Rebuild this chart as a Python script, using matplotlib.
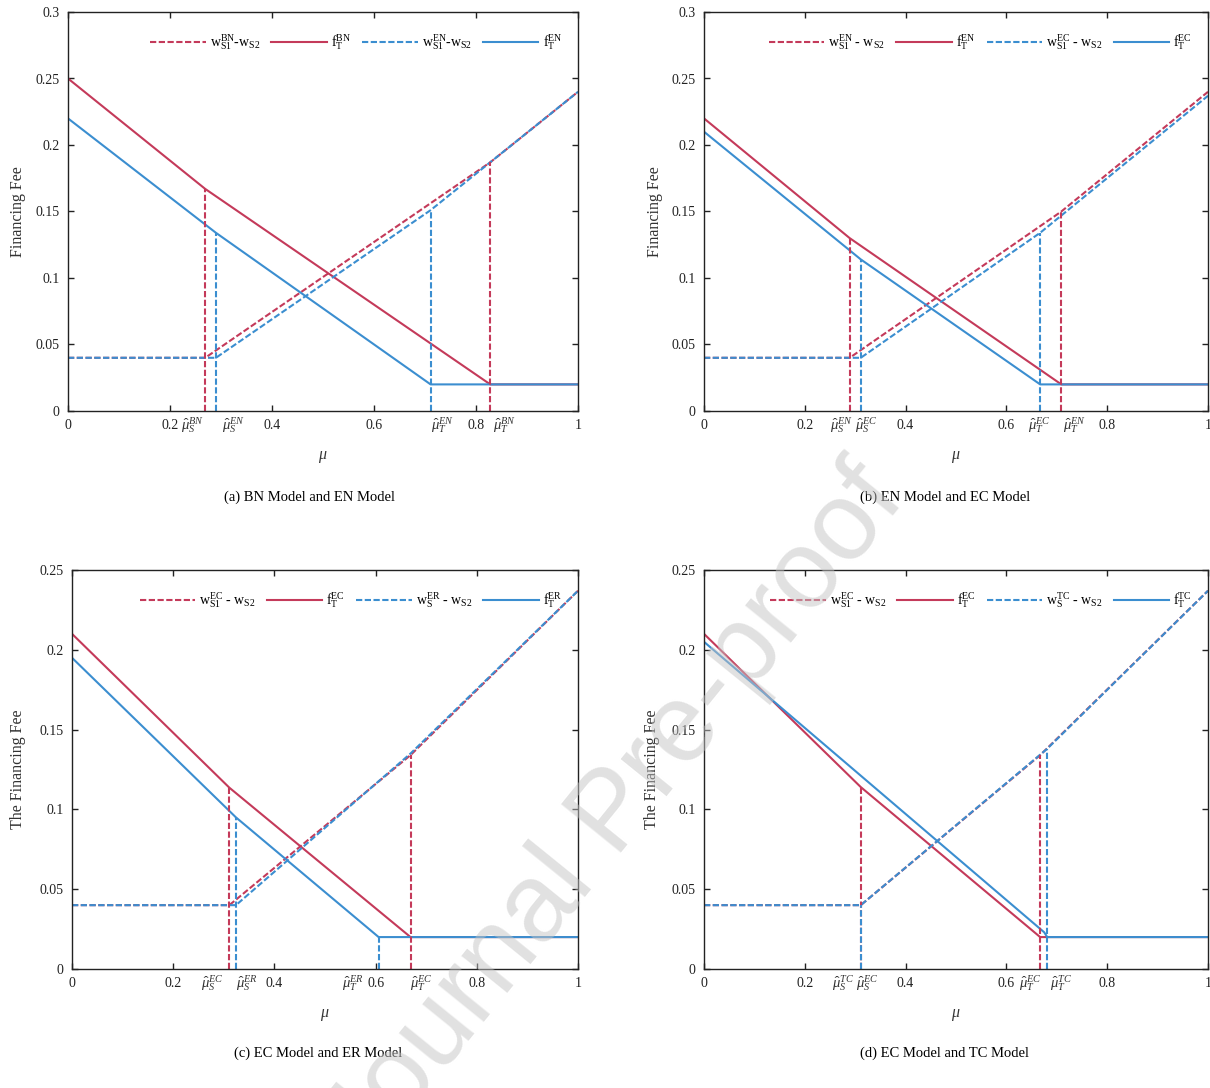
import matplotlib
matplotlib.use("Agg")
import matplotlib.pyplot as plt

plt.rcParams['font.family'] = ['Liberation Serif', 'DejaVu Serif']
plt.rcParams['mathtext.fontset'] = 'custom'
plt.rcParams['mathtext.rm'] = 'Liberation Serif'
plt.rcParams['mathtext.it'] = 'Liberation Serif:italic'
plt.rcParams['mathtext.bf'] = 'Liberation Serif:bold'

RED = '#C43A5A'
BLUE = '#3B8ED0'

# ---------------- data: panel (a) BN vs EN ----------------
A_WR_X = [0, 0.269, 0.828, 1.0]
A_WR_Y = [0.04, 0.04, 0.187, 0.24]
A_FR_X = [0, 0.269, 0.828, 1.0]
A_FR_Y = [0.25, 0.167, 0.02, 0.02]
A_WB_X = [0, 0.290, 0.711, 1.0]
A_WB_Y = [0.04, 0.04, 0.151, 0.24]
A_FB_X = [0, 0.290, 0.711, 1.0]
A_FB_Y = [0.22, 0.134, 0.02, 0.02]
A_VR_X = [0.269, 0.828]
A_VR_Y = [0.167, 0.187]
A_VB_X = [0.290, 0.711]
A_VB_Y = [0.134, 0.151]
A_LAB_X = [0.245, 0.325, 0.735, 0.855]
A_LAB = [r'$\hat{\mu}_S^{BN}$', r'$\hat{\mu}_S^{EN}$', r'$\hat{\mu}_T^{EN}$', r'$\hat{\mu}_T^{BN}$']
A_LEG = [r'$\mathrm{w}_{\mathrm{S1}}^{\mathrm{BN}}$-$\mathrm{w}_{\mathrm{S2}}$', r'$\mathrm{f}_{\mathrm{T}}^{\mathrm{BN}}$',
         r'$\mathrm{w}_{\mathrm{S1}}^{\mathrm{EN}}$-$\mathrm{w}_{\mathrm{S2}}$', r'$\mathrm{f}_{\mathrm{T}}^{\mathrm{EN}}$']

# ---------------- data: panel (b) EN vs EC ----------------
B_WR_X = [0, 0.289, 0.709, 1.0]
B_WR_Y = [0.04, 0.04, 0.150, 0.240]
B_FR_X = [0, 0.289, 0.709, 1.0]
B_FR_Y = [0.22, 0.130, 0.02, 0.02]
B_WB_X = [0, 0.311, 0.667, 1.0]
B_WB_Y = [0.04, 0.04, 0.134, 0.237]
B_FB_X = [0, 0.311, 0.667, 1.0]
B_FB_Y = [0.21, 0.114, 0.02, 0.02]
B_VR_X = [0.289, 0.709]
B_VR_Y = [0.130, 0.150]
B_VB_X = [0.311, 0.667]
B_VB_Y = [0.114, 0.134]
B_LAB_X = [0.272, 0.322, 0.666, 0.735]
B_LAB = [r'$\hat{\mu}_S^{EN}$', r'$\hat{\mu}_S^{EC}$', r'$\hat{\mu}_T^{EC}$', r'$\hat{\mu}_T^{EN}$']
B_LEG = [r'$\mathrm{w}_{\mathrm{S1}}^{\mathrm{EN}}$ - $\mathrm{w}_{\mathrm{S2}}$', r'$\mathrm{f}_{\mathrm{T}}^{\mathrm{EN}}$',
         r'$\mathrm{w}_{\mathrm{S1}}^{\mathrm{EC}}$ - $\mathrm{w}_{\mathrm{S2}}$', r'$\mathrm{f}_{\mathrm{T}}^{\mathrm{EC}}$']

# ---------------- data: panel (c) EC vs ER ----------------
C_WR_X = [0, 0.311, 0.669, 1.0]
C_WR_Y = [0.04, 0.04, 0.134, 0.237]
C_FR_X = [0, 0.311, 0.669, 1.0]
C_FR_Y = [0.21, 0.1136, 0.02, 0.02]
C_WB_X = [0, 0.324, 0.669, 1.0]
C_WB_Y = [0.04, 0.04, 0.135, 0.237]
C_FB_X = [0, 0.324, 0.606, 1.0]
C_FB_Y = [0.195, 0.095, 0.02, 0.02]
C_VR_X = [0.311, 0.669]
C_VR_Y = [0.1136, 0.134]
C_VB_X = [0.324, 0.606]
C_VB_Y = [0.095, 0.02]
C_LAB_X = [0.278, 0.345, 0.555, 0.690]
C_LAB = [r'$\hat{\mu}_S^{EC}$', r'$\hat{\mu}_S^{ER}$', r'$\hat{\mu}_T^{ER}$', r'$\hat{\mu}_T^{EC}$']
C_LEG = [r'$\mathrm{w}_{\mathrm{S1}}^{\mathrm{EC}}$ - $\mathrm{w}_{\mathrm{S2}}$', r'$\mathrm{f}_{\mathrm{T}}^{\mathrm{EC}}$',
         r'$\mathrm{w}_{\mathrm{S}}^{\mathrm{ER}}$ - $\mathrm{w}_{\mathrm{S2}}$', r'$\mathrm{f}_{\mathrm{T}}^{\mathrm{ER}}$']

# ---------------- data: panel (d) EC vs TC ----------------
D_WR_X = [0, 0.311, 0.667, 1.0]
D_WR_Y = [0.04, 0.04, 0.134, 0.237]
D_FR_X = [0, 0.311, 0.667, 1.0]
D_FR_Y = [0.21, 0.114, 0.02, 0.02]
D_WB_X = [0, 0.311, 0.681, 1.0]
D_WB_Y = [0.04, 0.04, 0.138, 0.237]
D_FB_X = [0, 0.675, 0.681, 1.0]
D_FB_Y = [0.205, 0.023, 0.02, 0.02]
D_VR_X = [0.311, 0.667]
D_VR_Y = [0.114, 0.134]
D_VB_X = [0.311, 0.681]
D_VB_Y = [0.04, 0.138]
D_LAB_X = [0.276, 0.325, 0.648, 0.708]
D_LAB = [r'$\hat{\mu}_S^{TC}$', r'$\hat{\mu}_S^{EC}$', r'$\hat{\mu}_T^{EC}$', r'$\hat{\mu}_T^{TC}$']
D_LEG = [r'$\mathrm{w}_{\mathrm{S1}}^{\mathrm{EC}}$ - $\mathrm{w}_{\mathrm{S2}}$', r'$\mathrm{f}_{\mathrm{T}}^{\mathrm{EC}}$',
         r'$\mathrm{w}_{\mathrm{S}}^{\mathrm{TC}}$ - $\mathrm{w}_{\mathrm{S2}}$', r'$\mathrm{f}_{\mathrm{T}}^{\mathrm{TC}}$']

X_TICKS = [0, 0.2, 0.4, 0.6, 0.8, 1]
X_TICKLABELS = ['0', '0.2', '0.4', '0.6', '0.8', '1']
Y_TICKS_TOP = [0, 0.05, 0.1, 0.15, 0.2, 0.25, 0.3]
Y_TICKLABELS_TOP = ['0', '0.05', '0.1', '0.15', '0.2', '0.25', '0.3']
Y_TICKS_BOT = [0, 0.05, 0.1, 0.15, 0.2, 0.25]
Y_TICKLABELS_BOT = ['0', '0.05', '0.1', '0.15', '0.2', '0.25']

CAPTIONS = ['(a) BN Model and EN Model', '(b) EN Model and EC Model',
            '(c) EC Model and ER Model', '(d) EC Model and TC Model']
YLABELS = ['Financing Fee', 'Financing Fee', 'The Financing Fee', 'The Financing Fee']
WATERMARK = 'Journal Pre-proof'

W, H = 1210, 1088
fig = plt.figure(figsize=(W / 100, H / 100), dpi=100)

def px_axes(l, t, r, b):
    return fig.add_axes([l / W, 1 - b / H, (r - l) / W, (b - t) / H])

axes_px = [(68, 12, 578, 411), (704, 12, 1208, 411), (72, 570, 578, 969), (704, 570, 1208, 969)]

panels = [
    (A_WR_X, A_WR_Y, A_FR_X, A_FR_Y, A_WB_X, A_WB_Y, A_FB_X, A_FB_Y, A_VR_X, A_VR_Y, A_VB_X, A_VB_Y, A_LAB_X, A_LAB, A_LEG),
    (B_WR_X, B_WR_Y, B_FR_X, B_FR_Y, B_WB_X, B_WB_Y, B_FB_X, B_FB_Y, B_VR_X, B_VR_Y, B_VB_X, B_VB_Y, B_LAB_X, B_LAB, B_LEG),
    (C_WR_X, C_WR_Y, C_FR_X, C_FR_Y, C_WB_X, C_WB_Y, C_FB_X, C_FB_Y, C_VR_X, C_VR_Y, C_VB_X, C_VB_Y, C_LAB_X, C_LAB, C_LEG),
    (D_WR_X, D_WR_Y, D_FR_X, D_FR_Y, D_WB_X, D_WB_Y, D_FB_X, D_FB_Y, D_VR_X, D_VR_Y, D_VB_X, D_VB_Y, D_LAB_X, D_LAB, D_LEG),
]

DASH = (0, (3.0, 1.2))
LW = 1.5
caption_px = [(310, 497), (945, 497), (318, 1053), (945, 1053)]
ylabel_px = [18, 655, 18, 652]

for i, (p, box) in enumerate(zip(panels, axes_px)):
    (wrx, wry, frx, fry, wbx, wby, fbx, fby, vrx, vry, vbx, vby, labx, labs, legs) = p
    ax = px_axes(*box)
    l1, = ax.plot(wrx, wry, color=RED, lw=LW, ls=DASH)
    l2, = ax.plot(frx, fry, color=RED, lw=LW)
    l3, = ax.plot(wbx, wby, color=BLUE, lw=LW, ls=DASH)
    l4, = ax.plot(fbx, fby, color=BLUE, lw=LW)
    ax.vlines(vrx, 0, vry, colors=RED, lw=LW, linestyles=[DASH])
    ax.vlines(vbx, 0, vby, colors=BLUE, lw=LW, linestyles=[DASH])

    ax.set_xlim(0, 1)
    if i < 2:
        ax.set_ylim(0, 0.3)
        ax.set_yticks(Y_TICKS_TOP)
        ax.set_yticklabels(Y_TICKLABELS_TOP)
    else:
        ax.set_ylim(0, 0.25)
        ax.set_yticks(Y_TICKS_BOT)
        ax.set_yticklabels(Y_TICKLABELS_BOT)
    ax.set_xticks(X_TICKS)
    ax.set_xticklabels(X_TICKLABELS)
    ax.tick_params(direction='in', top=True, right=True, length=4, width=1,
                   labelsize=10, colors='#222222', pad=6)
    for s in ax.spines.values():
        s.set_color('#222222')
        s.set_linewidth(1.0)

    for x, t in zip(labx, labs):
        ax.annotate(t, xy=(x, 0), xycoords=('data', 'axes fraction'),
                    xytext=(0, -3), textcoords='offset points',
                    ha='center', va='top', fontsize=10.5, color='#333333')

    ax.set_xlabel(r'$\mu$', fontsize=11.5, labelpad=12, color='#333333')
    fig.text(ylabel_px[i] / W, 1 - ((box[1] + box[3]) / 2) / H, YLABELS[i],
             rotation=90, ha='center', va='center', fontsize=11.5, color='#333333')

    ax.legend([l1, l2, l3, l4], legs, loc='upper right', ncol=4, frameon=False,
              bbox_to_anchor=(0.985, 0.97), fontsize=10, handlelength=4.0,
              handletextpad=0.3, columnspacing=0.8, borderaxespad=0.2)

    cx, cy = caption_px[i]
    fig.text(cx / W, 1 - cy / H, CAPTIONS[i], ha='center', va='center', fontsize=10.5, color='black')

fig.text(615 / W, 1 - 815 / H, WATERMARK, rotation=51, ha='center', va='center',
         fontsize=80, family='Liberation Sans', color='#c4c4c4', alpha=0.5, zorder=10)

fig.savefig('out.png', dpi=100)
